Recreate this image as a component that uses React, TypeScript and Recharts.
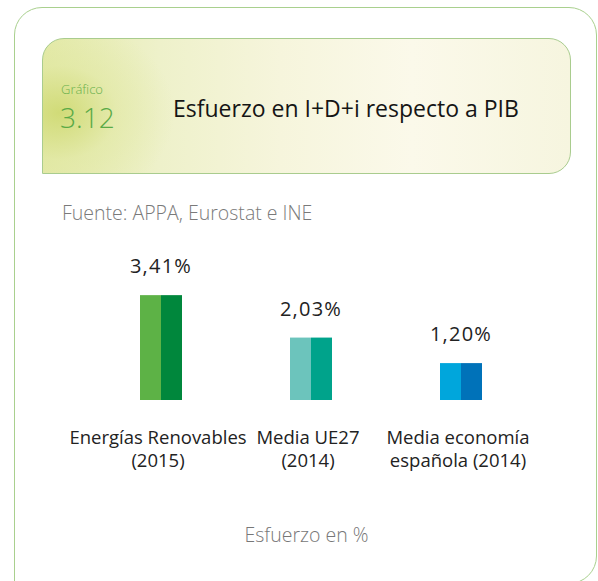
import { BarChart, Bar, XAxis, YAxis, LabelList } from "recharts";

const categories = ["Energías Renovables\n(2015)", "Media UE27\n(2014)", "Media economía\nespañola (2014)"];
const values = [3.41, 2.03, 1.2];
const lightColors = ["#5db246", "#6cc4bc", "#00a6dc"];
const darkColors = ["#00873c", "#00a38b", "#0072b9"];

const data = categories.map((name, i) => ({ name, value: values[i] }));

const FONT = "'Open Sans', sans-serif";

const fmt = (v: any) => Number(v).toFixed(2).replace(".", ",") + "%";

// each bar is drawn as two halves: lighter left, darker right
const SplitBar = (props: any) => {
    const { x, y, width, height } = props;
    let i = props.index;
    if (i === undefined && props.payload) i = categories.indexOf(props.payload.name);
    const half = width / 2;
    return (
        <g>
            <rect x={x} y={y} width={half} height={height} fill={lightColors[i]} />
            <rect x={x + half} y={y} width={half} height={height} fill={darkColors[i]} />
        </g>
    );
};

const CategoryTick = (props: any) => {
    const { x, y, payload } = props;
    const lines = String(payload.value).split("\n");
    return (
        <text x={x} y={y} textAnchor="middle" fill="#222" fontSize={18.5} fontFamily={FONT}>
            {lines.map((l, k) => (
                <tspan key={k} x={x - 3} dy={k === 0 ? 38 : 23}>{l}</tspan>
            ))}
        </text>
    );
};

export default function App() {
    return (
        <div style={{ position: "absolute", left: 0, top: 0, width: 598, height: 581, overflow: "hidden", background: "#fff", fontFamily: FONT }}>
            <div style={{ position: "absolute", left: 14, top: 7, width: 583, height: 577, border: "1.5px solid #a9d08e", borderRadius: "28px 28px 28px 0", boxSizing: "border-box" }} />
            <div
                style={{
                    position: "absolute", left: 42, top: 38, width: 529, height: 136, borderRadius: "22px 22px 22px 0",
                    border: "1.5px solid #a9cc8e", boxSizing: "border-box",
                    background: "radial-gradient(ellipse 22% 70% at 3% 55%, rgba(205,216,110,0.85) 0%, rgba(222,230,155,0.45) 50%, rgba(255,255,255,0) 100%), linear-gradient(90deg, #e4eaaa 0%, #eef1ca 22%, #f6f5dc 45%, #fbf9ea 70%, #f6f5df 100%)",
                }}
            />
            <div style={{ position: "absolute", left: 61, top: 81, fontSize: 13, fontWeight: 300, color: "#6ab04c", lineHeight: "16px" }}>Gráfico</div>
            <div style={{ position: "absolute", left: 60, top: 102, fontSize: 28, fontWeight: 300, color: "#5aaa46", lineHeight: "30px" }}>3.12</div>
            <div style={{ position: "absolute", left: 173, top: 92, fontSize: 23, color: "#151515", lineHeight: "32px" }}>Esfuerzo en I+D+i respecto a PIB</div>
            <div style={{ position: "absolute", left: 62, top: 200, fontSize: 19.5, fontWeight: 300, color: "#7a7a7a", lineHeight: "26px" }}>Fuente: APPA, Eurostat e INE</div>

            <div style={{ position: "absolute", left: 0, top: 0 }}>
                <BarChart width={598} height={581} data={data} margin={{ top: 277, right: 62, bottom: 101, left: 86 }}>
                    <YAxis hide domain={[0, 4]} />
                    <XAxis dataKey="name" height={80} axisLine={false} tickLine={false} tickMargin={0} interval={0} tick={<CategoryTick />} />
                    <Bar dataKey="value" barSize={42} shape={<SplitBar />} isAnimationActive={false}>
                        <LabelList dataKey="value" position="top" offset={22} formatter={fmt} fill="#222" fontSize={20} fontFamily={FONT} style={{ letterSpacing: 1.2 }} />
                    </Bar>
                </BarChart>
            </div>

            <div style={{ position: "absolute", left: 0, width: 613, top: 522, textAlign: "center", fontSize: 19.5, fontWeight: 300, color: "#777", lineHeight: "26px" }}>Esfuerzo en %</div>
        </div>
    );
}
